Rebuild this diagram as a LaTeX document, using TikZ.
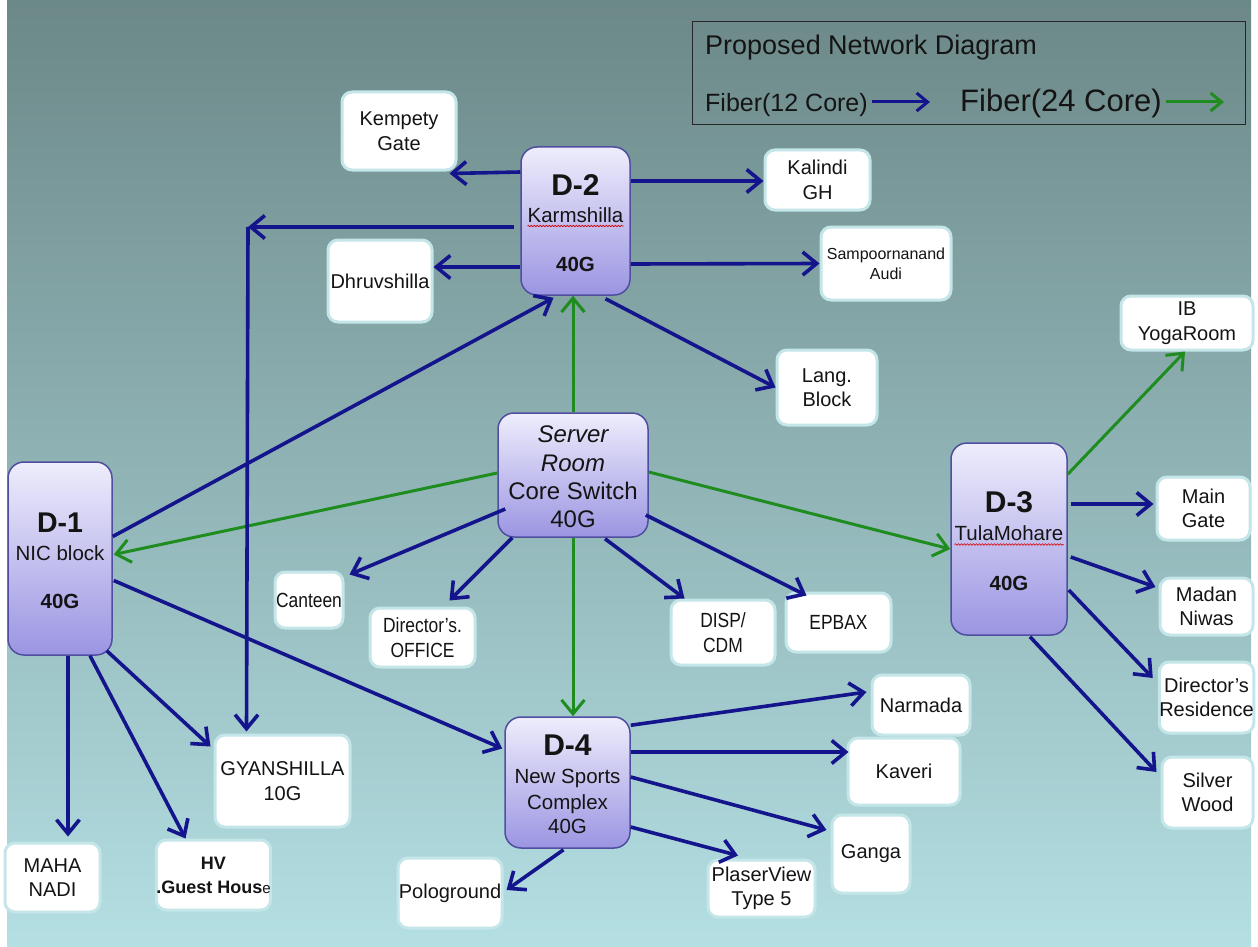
\documentclass[tikz,border=0pt]{standalone}
\usepackage{fontspec}
\usepackage{graphicx}
\setmainfont{Liberation Sans}
\usetikzlibrary{arrows.meta,calc,decorations.pathmorphing}
\definecolor{bgtop}{RGB}{108,136,136}
\definecolor{bgbot}{RGB}{180,223,227}
\definecolor{navy}{RGB}{20,20,140}
\definecolor{fgreen}{RGB}{30,140,30}
\definecolor{hubtop}{RGB}{238,237,252}
\definecolor{hubbot}{RGB}{155,149,226}
\definecolor{hubline}{RGB}{80,78,160}
\definecolor{leafline}{RGB}{196,230,232}
\definecolor{ink}{RGB}{20,20,20}
\newcommand{\nar}[1]{\scalebox{0.85}[1]{#1}}
\begin{document}
\begin{tikzpicture}[x=1pt,y=-1pt,
 leaf/.style={fill=white, draw=leafline, line width=3pt, rounded corners=10pt, inner sep=0pt, align=center, text=ink, font=\fontsize{20}{24.5}\selectfont},
 leafs/.style={leaf, font=\fontsize{20.5}{25}\selectfont},
 hub/.style={draw=hubline, line width=1.5pt, rounded corners=16pt, top color=hubtop, bottom color=hubbot, inner sep=0pt},
 lbl/.style={inner sep=0pt, anchor=base, text=ink},
 bl/.style={draw=navy, line width=3.6pt, -{Straight Barb[length=14pt,width=23pt]}},
 gr/.style={draw=fgreen, line width=3pt, -{Straight Barb[length=14pt,width=23pt]}},
 legarrow/.style={line width=3pt, -{Straight Barb[length=11pt,width=18pt]}},
 squiggle/.style={draw=red!85!black, line width=0.6pt, decorate, decoration={snake,amplitude=0.8pt,segment length=3pt}},
]
\useasboundingbox (0,0) rectangle (1258,947);
\fill[white] (0,0) rectangle (1258,947);
\fill[top color=bgtop, bottom color=bgbot] (7,0) rectangle (1251,947);

% legend
\node[draw=black!85, line width=1pt, minimum width=553pt, minimum height=103pt, inner sep=0pt] (legend) at (968.5,73.5) {};
\node[lbl, anchor=base west, font=\fontsize{27}{27}\selectfont] (lt) at (705,55) {Proposed Network Diagram};
\node[lbl, anchor=base west, font=\fontsize{25}{25}\selectfont] (f12) at (705,112) {Fiber(12 Core)};
\node[lbl, anchor=base west, font=\fontsize{31}{31}\selectfont] (f24) at (960,112) {Fiber(24 Core)};
\coordinate (la1) at ($(f12.base east)+(4,-10)$);
\coordinate (la2) at ($(la1)+(58,0)$);
\coordinate (lb1) at ($(f24.base east)+(4,-10)$);
\coordinate (lb2) at ($(lb1)+(58,0)$);
\draw[legarrow, draw=navy] (la1) -- (la2);
\draw[legarrow, draw=fgreen] (lb1) -- (lb2);

% hubs
\node[hub, minimum width=109pt, minimum height=148pt] (d2) at (575.5,221) {};
\node[hub, minimum width=150pt, minimum height=124pt] (server) at (573,475) {};
\node[hub, minimum width=104pt, minimum height=193pt] (d1) at (60,558.5) {};
\node[hub, minimum width=116pt, minimum height=192pt] (d3) at (1009,539) {};
\node[hub, minimum width=125pt, minimum height=131pt] (d4) at (567.5,782.5) {};

% hub texts
\node[lbl, font=\bfseries\fontsize{30}{30}\selectfont] (d2a) at (575.5,195) {D-2};
\node[lbl, font=\fontsize{20.5}{20.5}\selectfont] (d2b) at (575.5,222) {Karmshilla};
\node[lbl, font=\bfseries\fontsize{20.5}{20.5}\selectfont] (d2c) at (575.5,271) {40G};
\draw[squiggle] ($(d2b.base west)+(0,4)$) -- ($(d2b.base east)+(0,4)$);

\node[lbl, font=\itshape\fontsize{24}{24}\selectfont] (sa) at (573,442) {Server};
\node[lbl, font=\itshape\fontsize{24}{24}\selectfont] (sb) at (573,471) {Room};
\node[lbl, font=\fontsize{24}{24}\selectfont] (sc) at (573,499) {Core Switch};
\node[lbl, font=\fontsize{24}{24}\selectfont] (sd) at (573,527) {40G};

\node[lbl, font=\bfseries\fontsize{28.5}{28.5}\selectfont] (d1a) at (60,532) {D-1};
\node[lbl, font=\fontsize{20.5}{20.5}\selectfont] (d1b) at (60,560) {NIC block};
\node[lbl, font=\bfseries\fontsize{20.5}{20.5}\selectfont] (d1c) at (60,608) {40G};

\node[lbl, font=\bfseries\fontsize{30}{30}\selectfont] (d3a) at (1009,512) {D-3};
\node[lbl, font=\fontsize{20.5}{20.5}\selectfont] (d3b) at (1009,540.5) {TulaMohare};
\node[lbl, font=\bfseries\fontsize{20.5}{20.5}\selectfont] (d3c) at (1009,590) {40G};
\draw[squiggle] ($(d3b.base west)+(0,4)$) -- ($(d3b.base east)+(0,4)$);

\node[lbl, font=\bfseries\fontsize{30}{30}\selectfont] (d4a) at (567.5,755) {D-4};
\node[lbl, font=\fontsize{20.5}{20.5}\selectfont] (d4b) at (567.5,783) {New Sports};
\node[lbl, font=\fontsize{20.5}{20.5}\selectfont] (d4c) at (567.5,809) {Complex};
\node[lbl, font=\fontsize{20.5}{20.5}\selectfont] (d4d) at (567.5,833) {40G};

% leaves
\node[leaf, minimum width=114pt, minimum height=78pt] (kemp) at (399,131) {Kempety\\Gate};
\node[leaf, minimum width=105pt, minimum height=60pt] (kalindi) at (817.5,180) {Kalindi\\GH};
\node[leaf, minimum width=104pt, minimum height=82pt] (dhruv) at (380,281) {Dhruvshilla};
\node[leaf, minimum width=130pt, minimum height=73pt, font=\fontsize{16}{20}\selectfont] (samp) at (886,263.5) {Sampoornanand\\Audi};
\node[leaf, minimum width=100pt, minimum height=75pt] (lang) at (827,387.5) {Lang.\\Block};
\node[leaf, minimum width=132pt, minimum height=54pt] (ib) at (1187,323) {IB\\YogaRoom};
\node[leaf, minimum width=93pt, minimum height=63pt] (main) at (1203.5,508.5) {Main\\Gate};
\node[leaf, minimum width=93pt, minimum height=57pt] (madan) at (1206.5,606.5) {Madan\\Niwas};
\node[leaf, minimum width=93pt, minimum height=71pt] (dres) at (1206.5,697.5) {Director's\\Residence};
\node[leaf, minimum width=91pt, minimum height=71pt] (silver) at (1207.5,792.5) {Silver\\Wood};
\node[leafs, minimum width=68pt, minimum height=56pt] (canteen) at (309,600) {\nar{Canteen}};
\node[leafs, minimum width=105pt, minimum height=59pt] (doff) at (422.5,637.5) {\nar{Director's.}\\\nar{OFFICE}};
\node[leafs, minimum width=104pt, minimum height=65pt] (disp) at (723,632.5) {\nar{DISP/}\\\nar{CDM}};
\node[leafs, minimum width=105pt, minimum height=59pt] (epbax) at (838.5,622.5) {\nar{EPBAX}};
\node[leaf, minimum width=98pt, minimum height=60pt] (narmada) at (921,705) {Narmada};
\node[leaf, minimum width=112pt, minimum height=67pt] (kaveri) at (904,771.5) {Kaveri};
\node[leaf, minimum width=78pt, minimum height=78pt] (ganga) at (871,854) {Ganga};
\node[leaf, minimum width=135pt, minimum height=92pt] (gyan) at (282.5,781) {GYANSHILLA\\10G};
\node[leaf, minimum width=95pt, minimum height=69pt] (maha) at (52.5,877.5) {MAHA\\NADI};
\node[leaf, minimum width=113pt, minimum height=70pt, font=\bfseries\fontsize{18}{24}\selectfont] (hv) at (213.5,875) {HV\\.Guest Hous{\mdseries\fontsize{15}{15}\selectfont e}};
\node[leaf, minimum width=104pt, minimum height=70pt] (polo) at (450,893) {Pologround};
\node[leaf, minimum width=107pt, minimum height=57pt] (plaser) at (761.5,888.5) {PlaserView\\Type 5};

% green (24 core) links
\draw[gr] ($(server.west)+(0,-2)$) -- ($(d1.east)+(1,-4)$);
\draw[gr] (server.north) -- (server.north |- d2.south);
\draw[gr] ($(server.east)+(0,-3)$) -- ($(d3.west)+(0,10)$);
\draw[gr] (server.south) -- (server.south |- d4.north);
\draw[gr] ($(d3.north east)+(0,32)$) -- ($(ib.south)+(-2,0)$);

% blue (12 core) links from D-2
\draw[bl] ($(d2.west)+(0,-49)$) -- ($(kemp.south east)+(-8,2)$);
\draw[bl] ($(d2.east)+(0,-40)$) -- ($(kalindi.west)+(0,1)$);
\draw[bl] ($(d2.west)+(0,46)$) -- ($(dhruv.east)+(0,-14)$);
\draw[bl] ($(d2.east)+(0,43)$) -- (samp.west);
\draw[bl] ($(d2.south)+(30,3)$) -- (lang.west);
\coordinate (gc) at (248,227);
\draw[bl] ($(d2.west)+(-6,6)$) -- (gc);
\draw[bl] (gc) -- ($(gyan.north west)+(33,-2)$);

% from D-1
\draw[bl] ($(d1.east)+(0,-22)$) -- ($(d2.south)+(-22,2)$);
\draw[bl] ($(d1.east)+(1,22)$) -- ($(d4.west)+(-2,-34)$);
\draw[bl] ($(d1.south)+(8,0)$) -- ($(maha.north)+(15.5,-5)$);
\draw[bl] ($(d1.south)+(30,0)$) -- ($(hv.north)+(-28,0)$);
\draw[bl] ($(d1.south east)+(-6,-5)$) -- ($(gyan.north west)+(-3,13)$);

% from server
\draw[bl] ($(server.west)+(8,34)$) -- ($(canteen.north east)+(5,4)$);
\draw[bl] ($(server.south west)+(15,0)$) -- ($(doff.north)+(27,-6)$);
\draw[bl] ($(server.south)+(32,1)$) -- ($(disp.north west)+(15,0)$);
\draw[bl] ($(server.east)+(-3,40)$) -- ($(epbax.north west)+(22,4)$);

% from D-3
\draw[bl] ($(d3.east)+(3,-35)$) -- ($(main.west)+(-2,-4.5)$);
\draw[bl] ($(d3.east)+(3,18)$) -- ($(madan.west)+(-3,-19.5)$);
\draw[bl] ($(d3.east)+(1,51)$) -- ($(dres.west)+(-5,-19.5)$);
\draw[bl] ($(d3.south)+(21,1)$) -- ($(silver.west)+(-4,-20.5)$);

% from D-4
\draw[bl] ($(d4.north east)+(0,9)$) -- ($(narmada.west)+(-4,-13)$);
\draw[bl] ($(d4.east)+(0,-30.5)$) -- ($(kaveri.west)+(2,-19.5)$);
\draw[bl] ($(d4.east)+(0,-5.5)$) -- ($(ganga.west)+(-4,-24)$);
\draw[bl] ($(d4.east)+(0,44.5)$) -- ($(plaser.north)+(-23.5,-3)$);
\draw[bl] ($(d4.south)+(-4,1)$) -- ($(polo.east)+(3,-3)$);
\end{tikzpicture}
\end{document}
